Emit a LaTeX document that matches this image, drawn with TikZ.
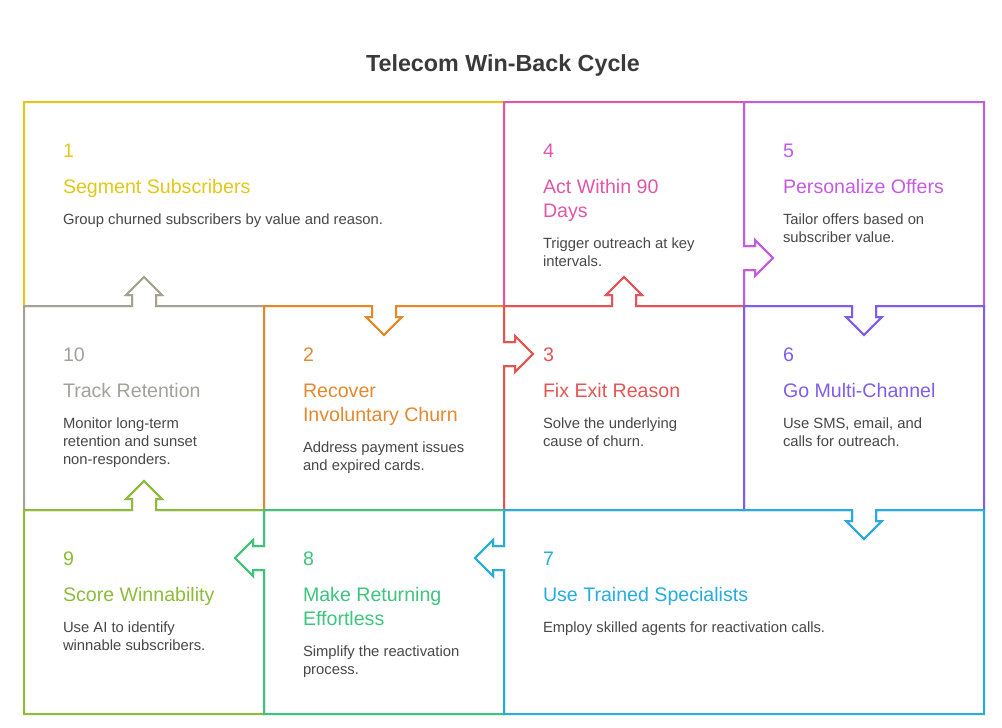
\documentclass[tikz,border=0pt]{standalone}
\usepackage{fontspec}
\setmainfont{Liberation Sans}

\definecolor{cyellow}{HTML}{E2C718}
\definecolor{cpink}{HTML}{E056A8}
\definecolor{cmagenta}{HTML}{C45CE3}
\definecolor{cgray}{HTML}{A2A29B}
\definecolor{corange}{HTML}{E3882F}
\definecolor{cred}{HTML}{E35555}
\definecolor{cviolet}{HTML}{7E5EE8}
\definecolor{colive}{HTML}{8EBB38}
\definecolor{cgreen}{HTML}{3DC47F}
\definecolor{cblue}{HTML}{24ADDE}
\definecolor{ctext}{HTML}{474747}
\definecolor{ctitle}{HTML}{3A3A3A}

% arrow notch in a border: centre x, centre y, direction of travel, direction of arrow
\newcommand{\hnotch}[4]{%
  -- ({#1-(#3)*12},#2) -- ({#1-(#3)*12},{#2+(#4)*11})
  -- ({#1-(#3)*18},{#2+(#4)*11}) -- (#1,{#2+(#4)*29})
  -- ({#1+(#3)*18},{#2+(#4)*11}) -- ({#1+(#3)*12},{#2+(#4)*11})
  -- ({#1+(#3)*12},#2)}
\newcommand{\vnotch}[4]{%
  -- (#1,{#2-(#3)*12}) -- ({#1+(#4)*11},{#2-(#3)*12})
  -- ({#1+(#4)*11},{#2-(#3)*18}) -- ({#1+(#4)*29},#2)
  -- ({#1+(#4)*11},{#2+(#3)*18}) -- ({#1+(#4)*11},{#2+(#3)*12})
  -- (#1,{#2+(#3)*12})}
% lines of a label, baseline on the first one
\newcommand{\txtlines}[1]{\begin{tabular}[t]{@{}l@{}}#1\end{tabular}}

\begin{document}
\begin{tikzpicture}[x=1pt, y=-1pt, line width=2pt,
    num/.style={anchor=base west, inner sep=0pt,
      font=\fontsize{19.6}{24}\selectfont},
    head/.style={num},
    body/.style={anchor=base west, inner sep=0pt, text=ctext,
      font=\fontsize{14.8}{18}\selectfont}]
    \useasboundingbox (0,0) rectangle (1002,728);

    \node[anchor=base, text=ctitle, font=\fontsize{23.3}{28}\selectfont\bfseries]
        (title) at (503,71.5) {Telecom Win-Back Cycle};

    % borders, in reading order: a later cell lies over the earlier one
    \draw[cyellow] (24,102) -- (504,102) -- (504,306)
        \hnotch{384}{306}{-1}{1} \hnotch{144}{306}{-1}{-1} -- (24,306) -- cycle;
    \draw[cpink] (504,102) -- (744,102) \vnotch{744}{258}{1}{1} -- (744,306)
        \hnotch{624}{306}{-1}{-1} -- (504,306) -- cycle;
    \draw[cmagenta] (744,102) -- (984,102) -- (984,306)
        \hnotch{864}{306}{-1}{1} -- (744,306) \vnotch{744}{258}{-1}{1} -- cycle;
    \draw[cgray] (24,306) \hnotch{144}{306}{1}{-1} -- (264,306) -- (264,510)
        \hnotch{144}{510}{-1}{-1} -- (24,510) -- cycle;
    \draw[corange] (264,306) \hnotch{384}{306}{1}{1} -- (504,306)
        \vnotch{504}{354}{1}{1} -- (504,510) -- (264,510) -- cycle;
    \draw[cred] (504,306) \hnotch{624}{306}{1}{-1} -- (744,306) -- (744,510)
        -- (504,510) \vnotch{504}{354}{-1}{1} -- cycle;
    \draw[cviolet] (744,306) \hnotch{864}{306}{1}{1} -- (984,306) -- (984,510)
        \hnotch{864}{510}{-1}{1} -- (744,510) -- cycle;
    \draw[colive] (24,510) \hnotch{144}{510}{1}{-1} -- (264,510)
        \vnotch{264}{558}{1}{-1} -- (264,714) -- (24,714) -- cycle;
    \draw[cgreen] (264,510) -- (504,510) \vnotch{504}{558}{1}{-1} -- (504,714)
        -- (264,714) \vnotch{264}{558}{-1}{-1} -- cycle;
    \draw[cblue] (504,510) \hnotch{864}{510}{1}{1} -- (984,510) -- (984,714)
        -- (504,714) \vnotch{504}{558}{-1}{-1} -- cycle;

    % row 1
    \node[num, text=cyellow] (n1) at (62,157.5) {1};
    \node[head, text=cyellow] (h1) at (62,193.5) {Segment Subscribers};
    \node[body] (b1) at (62,224) {Group churned subscribers by value and reason.};
    \node[num, text=cpink] (n4) at (542,157.5) {4};
    \node[head, text=cpink] (h4) at (542,193.5) {\txtlines{Act Within 90\\Days}};
    \node[body] (b4) at (542,248) {\txtlines{Trigger outreach at key\\intervals.}};
    \node[num, text=cmagenta] (n5) at (782,157.5) {5};
    \node[head, text=cmagenta] (h5) at (782,193.5) {Personalize Offers};
    \node[body] (b5) at (782,224) {\txtlines{Tailor offers based on\\subscriber value.}};

    % row 2
    \node[num, text=cgray] (n10) at (62,361.5) {10};
    \node[head, text=cgray] (h10) at (62,397.5) {Track Retention};
    \node[body] (b10) at (62,428) {\txtlines{Monitor long-term\\retention and sunset\\non-responders.}};
    \node[num, text=corange] (n2) at (302,361.5) {2};
    \node[head, text=corange] (h2) at (302,397.5) {\txtlines{Recover\\Involuntary Churn}};
    \node[body] (b2) at (302,452) {\txtlines{Address payment issues\\and expired cards.}};
    \node[num, text=cred] (n3) at (542,361.5) {3};
    \node[head, text=cred] (h3) at (542,397.5) {Fix Exit Reason};
    \node[body] (b3) at (542,428) {\txtlines{Solve the underlying\\cause of churn.}};
    \node[num, text=cviolet] (n6) at (782,361.5) {6};
    \node[head, text=cviolet] (h6) at (782,397.5) {Go Multi-Channel};
    \node[body] (b6) at (782,428) {\txtlines{Use SMS, email, and\\calls for outreach.}};

    % row 3
    \node[num, text=colive] (n9) at (62,565.5) {9};
    \node[head, text=colive] (h9) at (62,601.5) {Score Winnability};
    \node[body] (b9) at (62,632) {\txtlines{Use AI to identify\\winnable subscribers.}};
    \node[num, text=cgreen] (n8) at (302,565.5) {8};
    \node[head, text=cgreen] (h8) at (302,601.5) {\txtlines{Make Returning\\Effortless}};
    \node[body] (b8) at (302,656) {\txtlines{Simplify the reactivation\\process.}};
    \node[num, text=cblue] (n7) at (542,565.5) {7};
    \node[head, text=cblue] (h7) at (542,601.5) {Use Trained Specialists};
    \node[body] (b7) at (542,632) {Employ skilled agents for reactivation calls.};
\end{tikzpicture}
\end{document}
